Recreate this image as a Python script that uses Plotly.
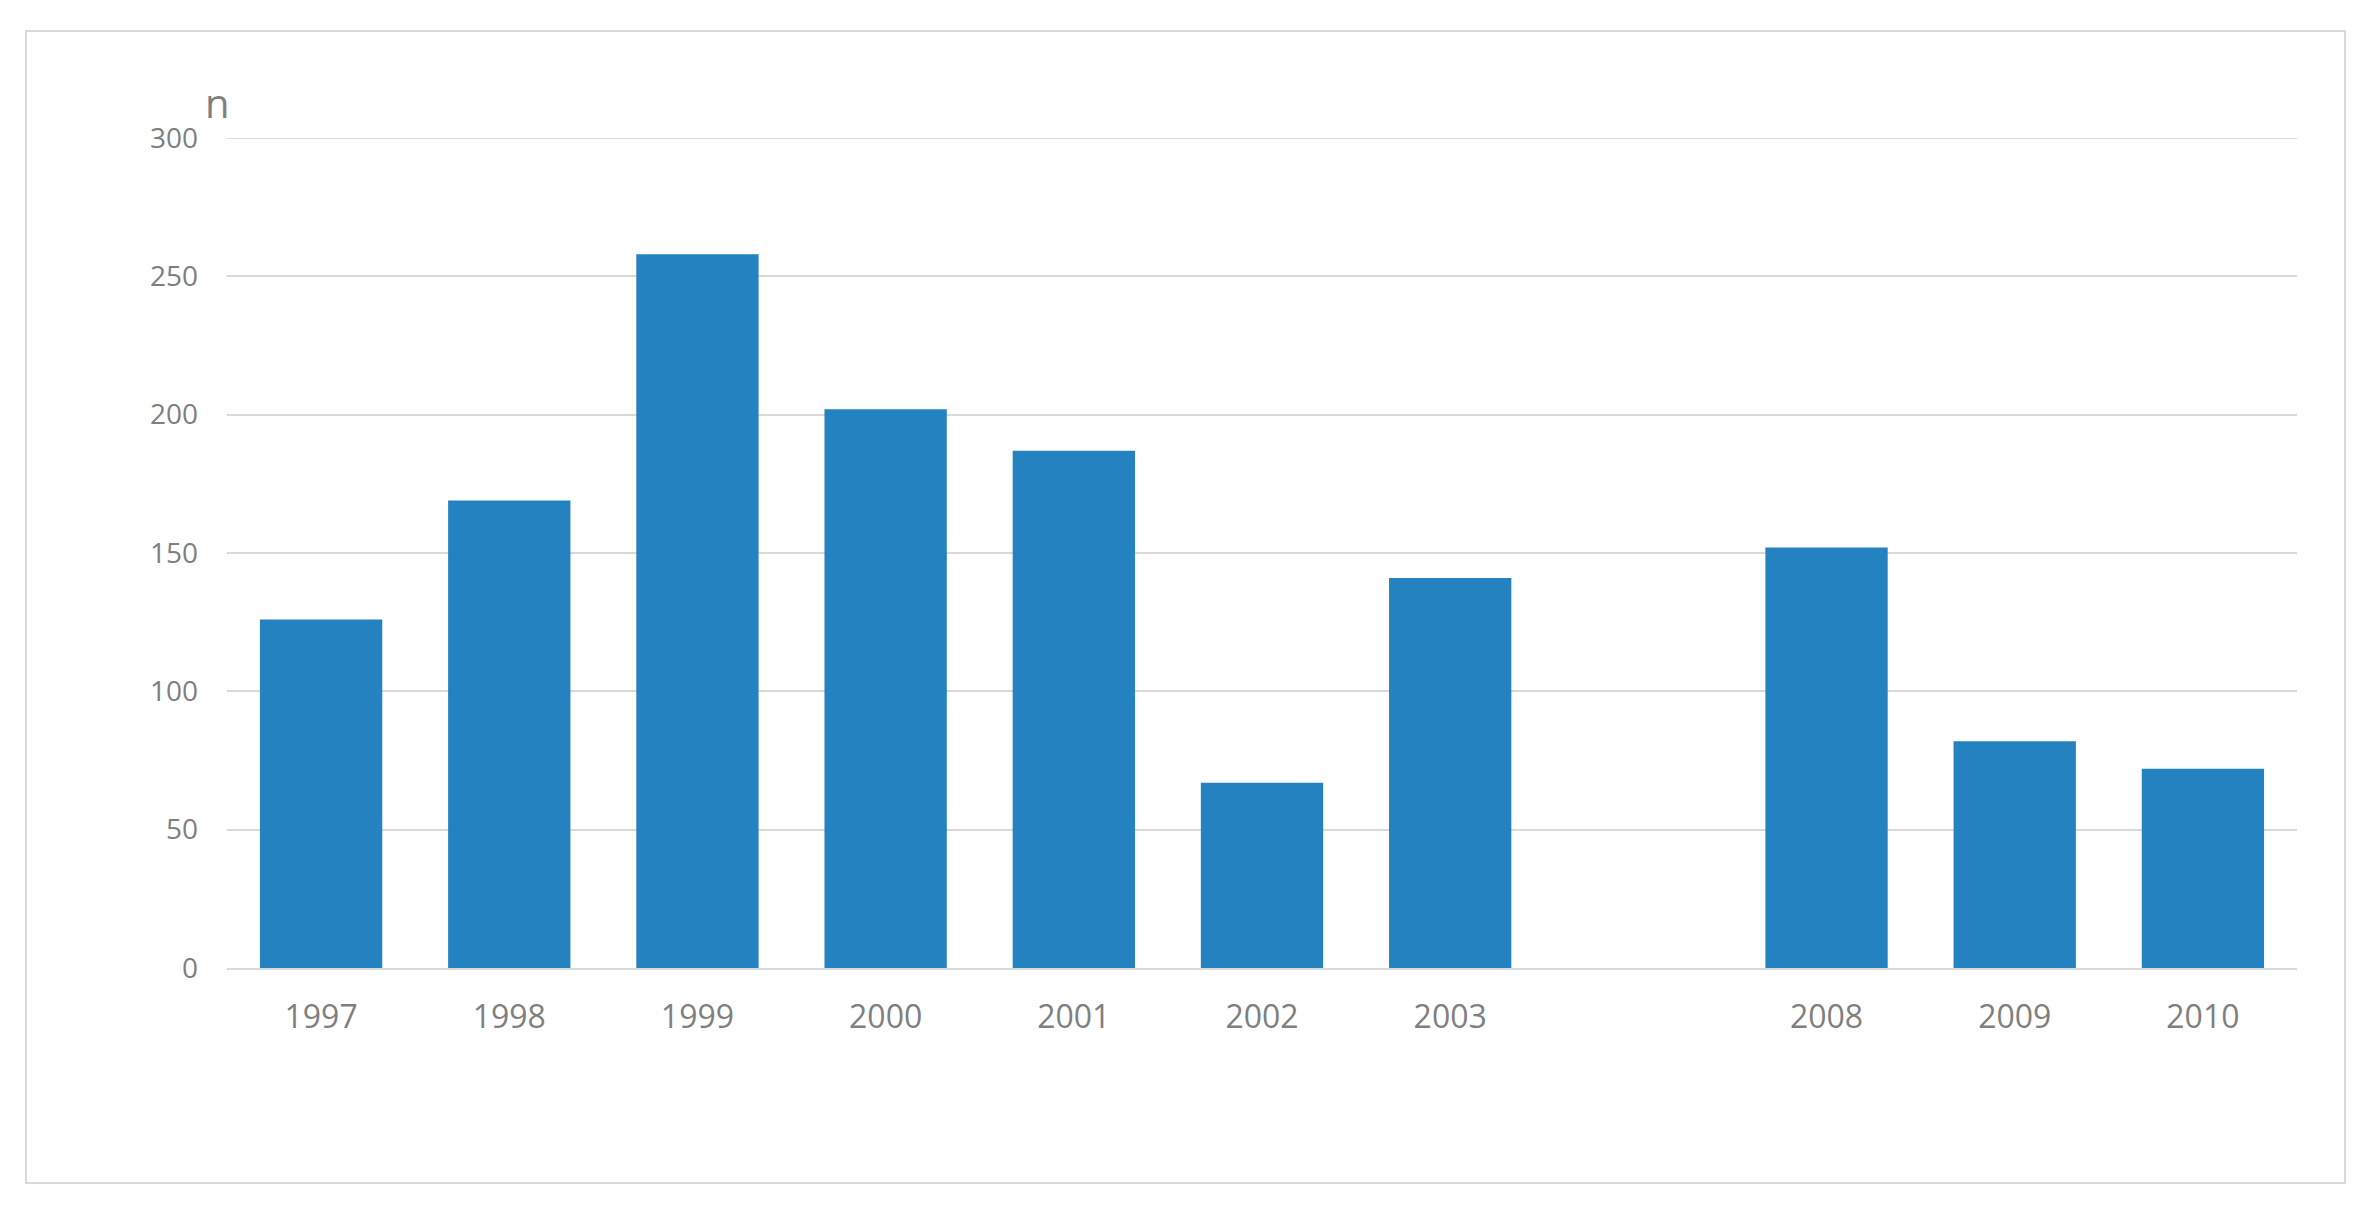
""" Import Libraries """
import plotly.graph_objects as go

""" Data """
years_before_gap = ['1997', '1998', '1999', '2000', '2001', '2002', '2003']
values_before_gap = [126, 169, 258, 202, 187, 67, 141]
years_after_gap = ['2008', '2009', '2010']
values_after_gap = [152, 82, 72]

# one empty slot between 2003 and 2008
categories = years_before_gap + [' '] + years_after_gap
values = values_before_gap + [None] + values_after_gap

y_ticks = [0, 50, 100, 150, 200, 250, 300]

""" Figure """
W, H = 2371, 1207
OFF = 8  # page body margin
ML, MR, MT, MB = 227 - OFF, 74 + OFF, 138 - OFF, 239 + OFF
PW, PH = W - ML - MR, H - MT - MB

grey_text = '#7f7f7f'
grid_color = '#d9d9d9'

fig = go.Figure(go.Bar(x=categories, y=values, marker_color='#2582c1',
                       marker_line_width=0))

# screen pixels -> paper coords
def px_x(p):
    return (p - OFF - ML) / PW

def px_y(p):
    return 1 - (p - OFF - MT) / PH

# outer chart border
fig.add_shape(type='rect', xref='paper', yref='paper',
              x0=px_x(26), x1=px_x(2345), y0=px_y(1183), y1=px_y(31),
              line=dict(color=grid_color, width=2), fillcolor='rgba(0,0,0,0)',
              layer='below')

# top gridline (plotly skips the one on the range edge)
fig.add_shape(type='line', xref='paper', yref='y', x0=0, x1=1,
              y0=y_ticks[-1], y1=y_ticks[-1],
              line=dict(color=grid_color, width=2), layer='below')

fig.add_annotation(text='n', xref='paper', yref='paper',
                   x=px_x(217), y=px_y(102), xanchor='center', yanchor='middle',
                   showarrow=False, font=dict(size=40, color=grey_text, family='Open Sans'))

fig.update_layout(width=W, height=H,
                  margin=dict(l=ML, r=MR, t=MT, b=MB),
                  plot_bgcolor='white', paper_bgcolor='white',
                  bargap=0.35, showlegend=False,
                  font=dict(family='Open Sans', color=grey_text))

fig.update_xaxes(type='category', categoryorder='array', categoryarray=categories,
                 showgrid=False, showline=True, linecolor=grid_color, linewidth=2,
                 ticks='', tickfont=dict(size=32, color=grey_text),
                 ticklabelstandoff=20)

fig.update_yaxes(range=[0, 300], tickvals=y_ticks, showgrid=True,
                 gridcolor=grid_color, gridwidth=2, zeroline=False,
                 showline=False, ticks='', tickfont=dict(size=28, color=grey_text),
                 ticklabelstandoff=28)

fig.write_html("out.html")
